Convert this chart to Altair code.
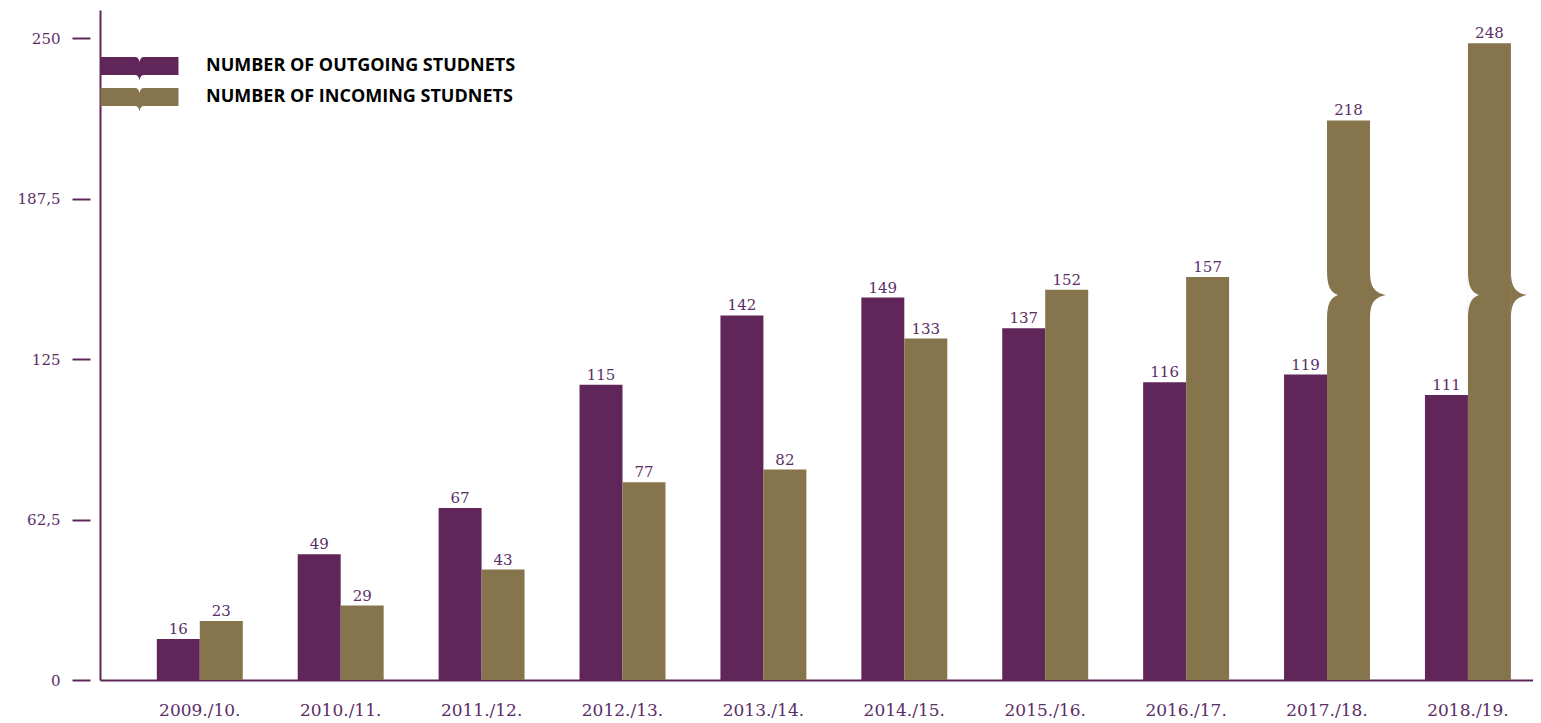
import altair as alt
import pandas as pd

categories = ["2009./10.", "2010./11.", "2011./12.", "2012./13.", "2013./14.",
              "2014./15.", "2015./16.", "2016./17.", "2017./18.", "2018./19."]
outgoing = [16, 49, 67, 115, 142, 149, 137, 116, 119, 111]
incoming = [23, 29, 43, 77, 82, 133, 152, 157, 218, 248]
series_names = ["NUMBER OF OUTGOING STUDNETS", "NUMBER OF INCOMING STUDNETS"]
y_ticks = [0, 62.5, 125, 187.5, 250]
broken_bars = ["2017./18.", "2018./19."]
break_value = [150, 150]

rows = []
for c, o, i in zip(categories, outgoing, incoming):
    rows.append({"cat": c, "series": series_names[0], "value": o})
    rows.append({"cat": c, "series": series_names[1], "value": i})
df = pd.DataFrame(rows)
brk = pd.DataFrame({"cat": broken_bars, "series": series_names[1], "value": break_value})

PURPLE = "#60265a"
BROWN = "#85744c"
LABEL = "#5b2e66"
SERIF = "DejaVu Serif"

LEGEND_SYMBOL = ("M-4.33,-1 H-0.5 Q-0.1,-1 0,-0.45 Q0.1,-1 0.5,-1 H4.33 V1 "
                 "H0.5 Q0.1,1 0,1.6 Q-0.1,1 -0.5,1 H-4.33 Z")
BRACE_RIGHT = "M0.86,-1 C0.86,-0.35 1.0,-0.1 1.5,0 C1.0,0.1 0.86,0.35 0.86,1 Z"
BRACE_LEFT = "M-0.86,-1 C-0.86,-0.35 -0.72,-0.1 -0.42,0 C-0.72,0.1 -0.86,0.35 -0.86,1 Z"

xscale = alt.Scale(domain=categories, paddingInner=0.39, paddingOuter=0.28, align=0.72)
yscale = alt.Scale(domain=[0, 261], nice=False, zero=True)
color_scale = alt.Scale(domain=series_names, range=[PURPLE, BROWN])

x_enc = alt.X("cat:N", scale=xscale, sort=categories, title=None,
              axis=alt.Axis(domain=True, domainColor=PURPLE, domainWidth=2, ticks=False,
                            labelAngle=0, labelFont=SERIF, labelFontSize=17,
                            labelColor=LABEL, labelPadding=22, grid=False))
xoff = alt.XOffset("series:N", sort=series_names,
                   scale=alt.Scale(domain=series_names, paddingInner=0, paddingOuter=0))

bars = alt.Chart(df).mark_bar().encode(
    x=x_enc,
    xOffset=xoff,
    y=alt.Y("value:Q", scale=yscale, title=None,
            axis=alt.Axis(values=y_ticks, orient="left", offset=10, domain=False,
                          tickSize=18, tickColor=PURPLE, tickWidth=2, labelPadding=12,
                          labelFont=SERIF, labelFontSize=15, labelColor=LABEL,
                          labelExpr="replace(format(datum.value, '~g'), '.', ',')",
                          grid=False)),
    color=alt.Color("series:N", scale=color_scale, sort=series_names, title=None,
                    legend=alt.Legend(orient="none", legendX=30.5, legendY=47,
                                      symbolType=LEGEND_SYMBOL, symbolSize=324,
                                      symbolStrokeWidth=0, symbolOpacity=1,
                                      labelFont="Open Sans", labelFontWeight="bold",
                                      labelFontSize=18, labelColor="black",
                                      labelLimit=0,
                                      labelOffset=57.5, rowPadding=7, padding=0)),
)

labels = alt.Chart(df).mark_text(dy=-5, baseline="alphabetic", font=SERIF,
                                 fontSize=15, color=LABEL).encode(
    x=alt.X("cat:N", scale=xscale, sort=categories),
    xOffset=xoff,
    y=alt.Y("value:Q", scale=yscale, title=None,
            axis=alt.Axis(orient="left", domain=True, domainColor=PURPLE, domainWidth=2,
                          ticks=False, labels=False, grid=False)),
    text="value:Q",
)

brace_r = alt.Chart(brk).mark_point(shape=BRACE_RIGHT, size=2500, filled=True,
                                    color=BROWN, opacity=1, strokeWidth=0).encode(
    x=alt.X("cat:N", scale=xscale, sort=categories),
    xOffset=xoff,
    y=alt.Y("value:Q", scale=yscale, axis=None),
)
brace_l = alt.Chart(brk).mark_point(shape=BRACE_LEFT, size=2500, filled=True,
                                    color="white", opacity=1, strokeWidth=0).encode(
    x=alt.X("cat:N", scale=xscale, sort=categories),
    xOffset=xoff,
    y=alt.Y("value:Q", scale=yscale, axis=None),
)

chart = alt.layer(bars, labels, brace_r, brace_l).resolve_axis(y="independent").properties(
    width=1433, height=670,
    padding={"left": 92, "top": 2, "right": 0, "bottom": 42},
    autosize=alt.AutoSizeParams(type="none"),
).configure_view(stroke=None)

chart.save("out.html", embed_options={"renderer": "svg", "actions": False})
